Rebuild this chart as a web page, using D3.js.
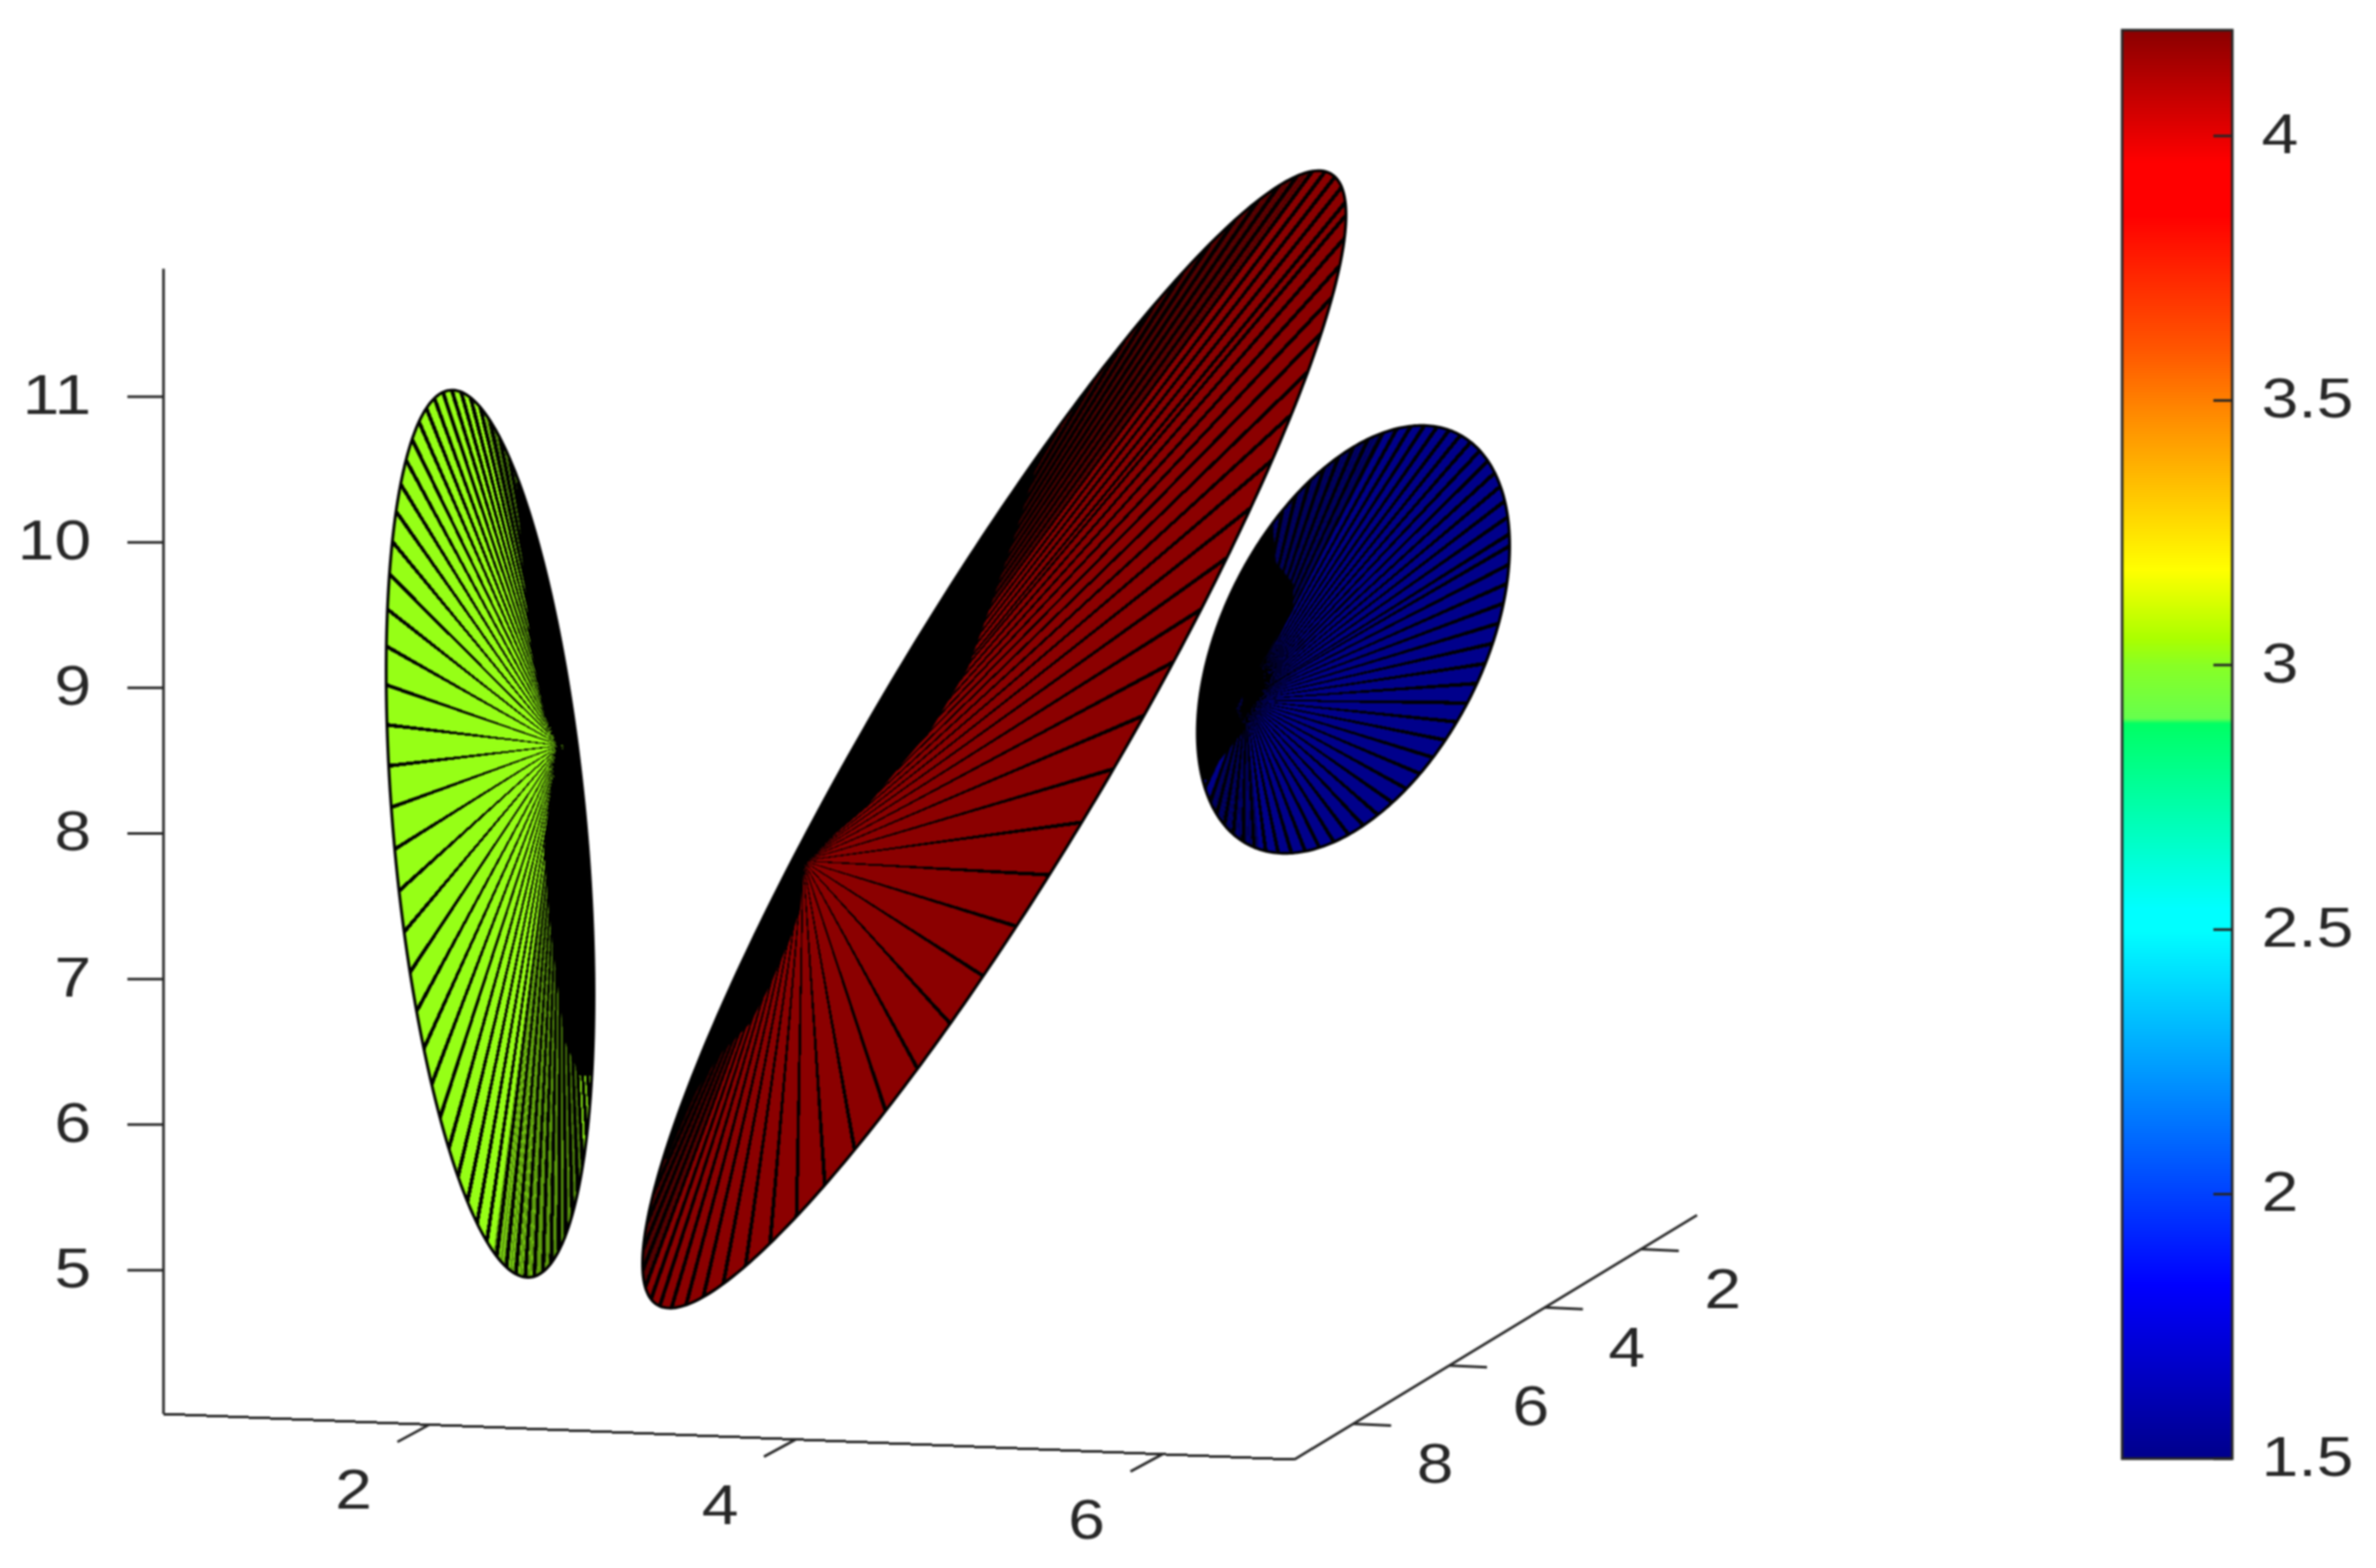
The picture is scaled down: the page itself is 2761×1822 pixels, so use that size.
<!DOCTYPE html>
<html><head><meta charset="utf-8">
<script src="https://cdn.jsdelivr.net/npm/d3@7"></script>
<style>
html,body{margin:0;padding:0;background:#fff}
svg{display:block;filter:blur(0.9px)}
text{font-family:"Liberation Sans",Arial,sans-serif;fill:#262626}
</style></head><body>
<script>
// ---- data ----
const xTicks=[2,4,6];
const yTicks=[2,4,6,8];
const zTicks=[5,6,7,8,9,10,11];
const cbTicks=[1.5,2,2.5,3,3.5,4];
const cbDomain=[1.5,4.2];
const cmapValues=[1.5,1.83,2.5,2.54,2.89,2.9,3.0,3.05,3.18,3.47,3.6,3.85,3.95,4.2];
const cmapColors=["#00008b","#0000ff","#00ffff","#00ffff","#00ff64","#66ff4d","#88ff25","#aaff00","#ffff00","#ff8c00","#ff5500","#ff0000","#ff0000","#8b0000"];
const diskNames=["green","red","blue"];
const diskValues=[3.02,4.2,1.5];
const diskCx=[2.332,5.083,7.043];
const diskCz=[7.998,8.646,9.333];
const diskSx=[0.567,1.919,0.852];
const diskSz=[3.047,3.906,1.469];
const diskRho=[0.365,-0.922,-0.437];
const hubX=[2.717,4.04,6.456];
const hubZ=[8.604,7.8125,8.917];
const spokeGap=[5.4,5.4,5.4];
// rim angle ranges (deg) where the mesh lines crowd together and darken the fill
const crowdFrom=[[28,268],[175,282],[128,240]];
const crowdTo=[[88,300],[208,335],[158,282]];
// black crowded crescent of each disk, [x,z]
const crescentGreen=[[2.475,10.414],[2.508,9.876],[2.555,9.255],[2.63,8.8],[2.733,8.593],[2.663,8.316],[2.625,7.9],[2.655,7.441],[2.68,7.151],[2.74,6.572],[2.82,6.336],[3.226,6.336],[3.226,10.414]];
const crescentRed=[[5.4,11],[5.32,10.55],[5.2,10.065],[5.06,9.551],[4.94,9.137],[4.74,8.717],[4.57,8.463],[4.4,8.203],[4.212,7.996],[4.048,7.784],[4.024,7.476],[3.968,7.27],[3.86,6.956],[3.752,6.696],[3.592,6.489],[3.456,6.229],[3.296,5.762],[2.475,5.762],[2.475,11]];
const crescentBlue=[[6.606,10.414],[6.606,10.065],[6.62,9.864],[6.714,9.716],[6.714,9.533],[6.639,9.374],[6.559,9.208],[6.465,9.001],[6.404,8.859],[6.451,8.717],[6.292,8.469],[6.245,8.369],[5.996,8.369],[5.996,10.414]];
const crescents=[crescentGreen,crescentRed,crescentBlue];

// ---- scales ----
const W=2761,H=1822;
const xS=d3.scaleLinear().domain([0.55,6.72]).range([190,1504]);
const xLineY=d3.scaleLinear().domain([0.55,6.72]).range([1643,1696]);
const zS=d3.scaleLinear().domain([5,11]).range([1476,461]);
const yLineX=d3.scaleLinear().domain([9.23,0.83]).range([1504,1972]);
const yLineY=d3.scaleLinear().domain([9.23,0.83]).range([1696,1412]);
const cbS=d3.scaleLinear().domain(cbDomain).range([1695,35]);
const cmap=d3.scaleLinear().domain(cmapValues).range(cmapColors).interpolate(d3.interpolateRgb);
const AX="#262626";

const svg=d3.select("body").append("svg").attr("width",W).attr("height",H).attr("viewBox",`0 0 ${W} ${H}`);
const defs=svg.append("defs");
const rad=d=>d*Math.PI/180;

// a spoke thins towards the hub, so the fill shows almost up to the hub
function spoke(hx,hy,p,wHub,wRim){
  const dx=p[0]-hx,dy=p[1]-hy,l=Math.hypot(dx,dy)||1,nx=-dy/l,ny=dx/l;
  return `M${hx+nx*wHub/2},${hy+ny*wHub/2}L${p[0]+nx*wRim/2},${p[1]+ny*wRim/2}L${p[0]-nx*wRim/2},${p[1]-ny*wRim/2}L${hx-nx*wHub/2},${hy-ny*wHub/2}Z`;
}

// ---- disks ----
diskNames.forEach((name,i)=>{
  const rim=t=>[
    xS(diskCx[i]+diskSx[i]*Math.cos(t)),
    zS(diskCz[i]-diskSz[i]*(diskRho[i]*Math.cos(t)+Math.sqrt(1-diskRho[i]**2)*Math.sin(t)))
  ];
  const outline=d3.line().curve(d3.curveLinearClosed)(d3.range(0,360,1).map(a=>rim(rad(a))));
  const g=svg.append("g").attr("class","disk-"+name);
  defs.append("clipPath").attr("id","clip-"+name).append("path").attr("d",outline);
  g.append("path").attr("d",outline).attr("fill",cmap(diskValues[i]));
  const hx=xS(hubX[i]),hy=zS(hubZ[i]);
  const body=g.append("g").attr("clip-path",`url(#clip-${name})`);
  const crowd=crowdFrom[i].flatMap((a,k)=>d3.range(a,crowdTo[i][k],spokeGap[i]/3));
  body.append("g").selectAll("path").data(crowd).join("path")
    .attr("d",a=>spoke(hx,hy,rim(rad(a)),0.6,3.2))
    .attr("fill","#000").attr("fill-opacity",0.38).attr("shape-rendering","crispEdges");
  body.append("g").selectAll("path").data(d3.range(0,360,spokeGap[i])).join("path")
    .attr("d",a=>spoke(hx,hy,rim(rad(a)),0.9,4.4))
    .attr("fill","#000").attr("shape-rendering","crispEdges");
  body.append("path")
    .attr("d",d3.line().x(d=>xS(d[0])).y(d=>zS(d[1])).curve(d3.curveLinearClosed)(crescents[i]))
    .attr("fill","#000");
  g.append("path").attr("d",outline).attr("fill","none").attr("stroke","#000").attr("stroke-width",3.4);
});

// ---- axes ----
const ax=svg.append("g").attr("stroke",AX).attr("stroke-width",3).attr("fill","none");
ax.append("line").attr("x1",xS(0.55)).attr("y1",zS(11.88)).attr("x2",xS(0.55)).attr("y2",xLineY(0.55));
ax.append("line").attr("x1",xS(0.55)).attr("y1",xLineY(0.55)).attr("x2",xS(6.72)).attr("y2",xLineY(6.72)).attr("shape-rendering","crispEdges");
ax.append("line").attr("x1",yLineX(9.23)).attr("y1",yLineY(9.23)).attr("x2",yLineX(0.83)).attr("y2",yLineY(0.83));
ax.selectAll(".zt").data(zTicks).join("line").attr("class","zt")
  .attr("x1",xS(0.55)-42).attr("x2",xS(0.55)).attr("y1",d=>zS(d)).attr("y2",d=>zS(d));
ax.selectAll(".xt").data(xTicks).join("line").attr("class","xt")
  .attr("x1",d=>xS(d)+0).attr("y1",d=>xLineY(d))
  .attr("x2",d=>xS(d)-37).attr("y2",d=>xLineY(d)+20);
ax.selectAll(".yt").data(yTicks).join("line").attr("class","yt")
  .attr("x1",d=>yLineX(d)).attr("y1",d=>yLineY(d))
  .attr("x2",d=>yLineX(d)+44).attr("y2",d=>yLineY(d)+2);

const FS=64,SX=1.2;
function label(sel,x,y,anchor){
  sel.attr("transform",d=>`translate(${x(d)},${y(d)}) scale(${SX},1)`)
     .attr("text-anchor",anchor).attr("font-size",FS).attr("stroke","none")
     .attr("dominant-baseline","middle").text(d=>d);
}
svg.selectAll(".zl").data(zTicks).join("text").attr("class","zl")
  .call(label,d=>106,d=>zS(d)+3,"end");
svg.selectAll(".xl").data(xTicks).join("text").attr("class","xl")
  .call(label,d=>xS(d)-88,d=>xLineY(d)+81,"middle");
svg.selectAll(".yl").data(yTicks).join("text").attr("class","yl")
  .call(label,d=>yLineX(d)+95,d=>yLineY(d)+52,"middle");

// ---- colour bar ----
const cbX=2466,cbW=128;
const rows=d3.range(cbS(cbDomain[1]),cbS(cbDomain[0]),1);
svg.append("g").selectAll("rect").data(rows).join("rect")
  .attr("x",cbX).attr("width",cbW).attr("y",d=>d).attr("height",1.5)
  .attr("fill",d=>cmap(cbS.invert(d)));
svg.append("rect").attr("x",cbX).attr("y",cbS(cbDomain[1])).attr("width",cbW).attr("height",cbS(cbDomain[0])-cbS(cbDomain[1]))
  .attr("fill","none").attr("stroke",AX).attr("stroke-width",3);
svg.append("g").attr("stroke",AX).attr("stroke-width",3).selectAll("line").data(cbTicks).join("line")
  .attr("x1",cbX+cbW-22).attr("x2",cbX+cbW).attr("y1",d=>cbS(d)).attr("y2",d=>cbS(d));
svg.selectAll(".cl").data(cbTicks).join("text").attr("class","cl")
  .call(label,d=>2628,d=>cbS(d)+3,"start");
</script>
</body></html>
